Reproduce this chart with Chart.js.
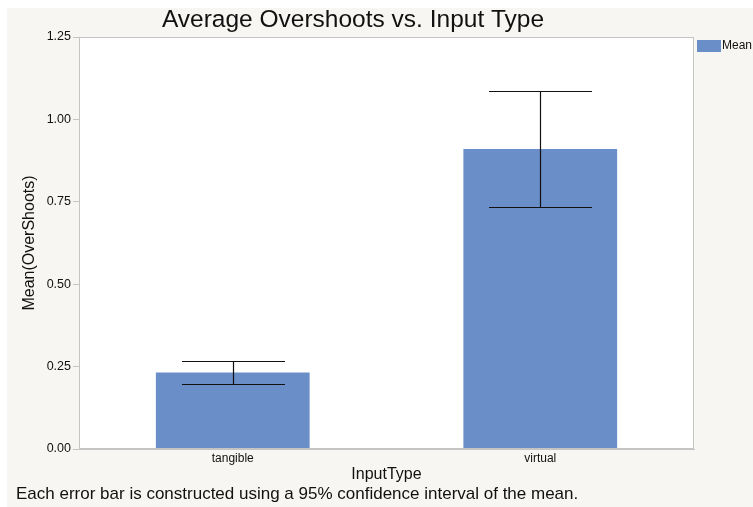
<!DOCTYPE html>
<html>
<head>
  <title>Average Overshoots vs. Input Type</title>
  <script src="https://cdn.jsdelivr.net/npm/chart.js"></script>
  <style>
    body { margin: 0; background: #fff; }
    #wrap { width: 753px; height: 507px; }
  </style>
</head>
<body>
  <div id="wrap"><canvas id="chart" width="753" height="507"></canvas></div>
  <script>
    const categories = ['tangible', 'virtual'];
    const means = [0.232, 0.910];
    const errLow = [0.197, 0.735];
    const errHigh = [0.267, 1.085];
    const yTicks = [0, 0.25, 0.5, 0.75, 1.0, 1.25];

    const FONT = '"Liberation Sans", Arial, sans-serif';
    const barColor = '#6a8ec8';

    const decor = {
      id: 'decor',
      beforeDraw(chart) {
        const c = chart.ctx;
        c.save();
        c.fillStyle = '#fff';
        c.fillRect(0, 0, chart.width, chart.height);
        c.fillStyle = '#f7f6f2';
        c.fillRect(7, 8, chart.width - 7, chart.height - 8);
        const a = chart.chartArea;
        c.fillStyle = '#fff';
        c.fillRect(a.left, a.top, a.right - a.left, a.bottom - a.top);
        c.restore();
      },
      afterDraw(chart) {
        const c = chart.ctx;
        const a = chart.chartArea;
        const y = chart.scales.y;
        c.save();
        // plot frame
        c.strokeStyle = '#c4c4c4';
        c.lineWidth = 1;
        c.strokeRect(a.left + 0.5, a.top + 0.5, a.right - a.left - 1, a.bottom - a.top - 1);
        // error bars
        c.strokeStyle = '#111';
        c.lineWidth = 1.2;
        const meta = chart.getDatasetMeta(0);
        categories.forEach((cat, i) => {
          const bar = meta.data[i];
          const cx = Math.round(bar.x) + 0.5;
          const capW = bar.width * 0.335;
          const yl = Math.round(y.getPixelForValue(errLow[i])) + 0.5;
          const yh = Math.round(y.getPixelForValue(errHigh[i])) + 0.5;
          c.beginPath();
          c.moveTo(cx, yl); c.lineTo(cx, yh);
          c.moveTo(cx - capW, yl); c.lineTo(cx + capW, yl);
          c.moveTo(cx - capW, yh); c.lineTo(cx + capW, yh);
          c.stroke();
        });
        // title
        c.fillStyle = '#111';
        c.font = '24.5px ' + FONT;
        c.textAlign = 'center';
        c.textBaseline = 'middle';
        c.fillText('Average Overshoots vs. Input Type', 353, 20);
        // axis titles
        c.font = '16px ' + FONT;
        c.fillText('InputType', (a.left + a.right) / 2, 475);
        c.save();
        c.translate(30, (a.top + a.bottom) / 2);
        c.rotate(-Math.PI / 2);
        c.fillText('Mean(OverShoots)', 0, 0);
        c.restore();
        // caption
        c.textAlign = 'left';
        c.font = '17px ' + FONT;
        c.fillText('Each error bar is constructed using a 95% confidence interval of the mean.', 16, 494);
        // legend
        c.fillStyle = barColor;
        c.fillRect(697, 40, 24, 12);
        c.fillStyle = '#111';
        c.font = '12px ' + FONT;
        c.fillText('Mean', 722, 46);
        c.restore();
      }
    };

    new Chart(document.getElementById('chart'), {
      type: 'bar',
      data: {
        labels: categories,
        datasets: [{
          label: 'Mean',
          data: means,
          backgroundColor: barColor,
          borderWidth: 0,
          barPercentage: 0.5,
          categoryPercentage: 1.0
        }]
      },
      options: {
        responsive: false,
        animation: false,
        layout: { padding: { left: 0, top: 37, right: 59, bottom: 0 } },
        plugins: { legend: { display: false }, title: { display: false }, tooltip: { enabled: false } },
        scales: {
          x: {
            grid: { display: false, drawTicks: false },
            border: { display: true, color: '#c4c4c4' },
            ticks: { font: { family: FONT, size: 12 }, color: '#111', padding: 2 },
            afterFit(s) { s.height = 58; }
          },
          y: {
            min: 0,
            max: 1.25,
            afterBuildTicks(s) { s.ticks = yTicks.map(v => ({ value: v })); },
            grid: { drawOnChartArea: false, drawTicks: true, tickLength: 6, color: '#c4c4c4' },
            border: { display: true, color: '#c4c4c4' },
            ticks: {
              font: { family: FONT, size: 12.5 }, color: '#111', padding: 2,
              callback: v => Number(v).toFixed(2)
            },
            afterFit(s) { s.width = 79; }
          }
        }
      },
      plugins: [decor]
    });
  </script>
</body>
</html>
